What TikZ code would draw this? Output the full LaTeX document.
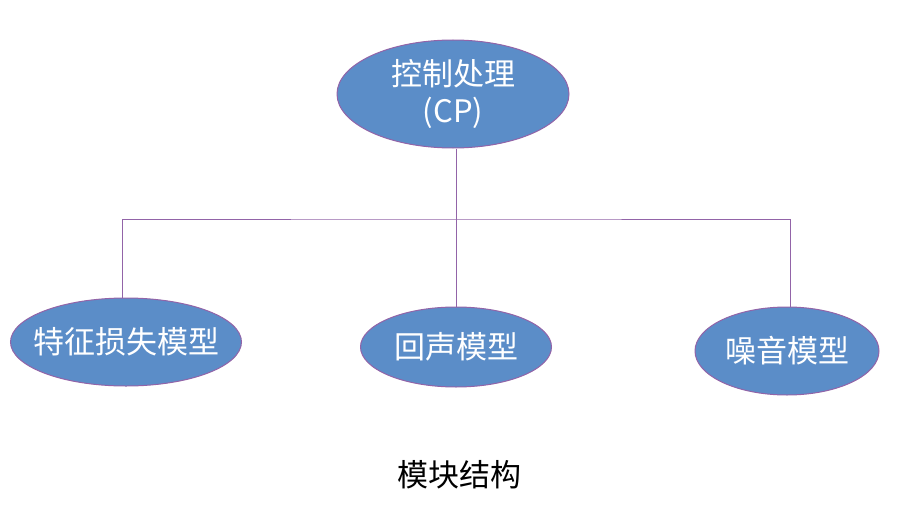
\documentclass[tikz,border=0pt]{standalone}
\usepackage{fontspec}
\newfontfamily\cjk{Noto Sans CJK SC}
\usetikzlibrary{shapes.geometric}
\definecolor{fillblue}{HTML}{5B8DC8}
\definecolor{edgepurple}{HTML}{9264A8}
\tikzset{
  blob/.style={ellipse, fill=fillblue, draw=edgepurple, line width=1pt, text=white, inner sep=0pt, font=\cjk\fontsize{31}{37}\selectfont, align=center},
  link/.style={draw=edgepurple, line width=1pt}
}
\begin{document}
\begin{tikzpicture}[x=1pt,y=-1pt]
\useasboundingbox (0,0) rectangle (901,516);
\node[blob, minimum width=232pt, minimum height=108pt] (cp) at (453,94) {控制处理\\(CP)};
\node[blob, inner xsep=-16pt, minimum width=231pt, minimum height=88pt] (loss) at (126,342) {特征损失模型};
\node[blob, minimum width=191pt, minimum height=80pt] (echo) at (456,347) {回声模型};
\node[blob, minimum width=184pt, minimum height=88pt] (noise) at (787,351) {噪音模型};
\coordinate (j) at (456,219);
\draw[link] (cp.south -| j) -- (echo.north);
\draw[link] (loss.north -| 122,0) |- (j) -| (noise.north -| 790,0);
\node[font=\cjk\fontsize{31}{37}\selectfont, text=black] (cap) at (459,475) {模块结构};
\end{tikzpicture}
\end{document}
